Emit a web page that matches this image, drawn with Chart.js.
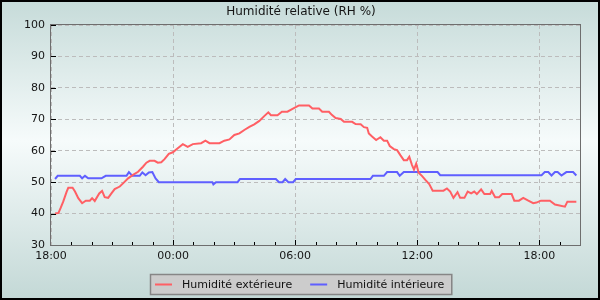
<!DOCTYPE html>
<html>
<head>
<meta charset="utf-8">
<script src="https://cdn.jsdelivr.net/npm/chart.js@4.4.1/dist/chart.umd.min.js"></script>
<style>
  html, body { margin: 0; padding: 0; background: #fff; }
  #wrap { width: 600px; height: 300px; }
</style>
</head>
<body>
<div id="wrap"><canvas id="rh" width="600" height="300"></canvas></div>
<script>
const chartTitle = 'Humidité relative (RH %)';
const seriesNames = ['Humidité extérieure', 'Humidité intérieure'];
const seriesColors = ['#ff5f64', '#5f5fff'];
const startHour = 18;           // x = hours elapsed since 18:00
const hourTicks = [0, 6, 12, 18, 24];

// outside humidity
const outHours = [0.2, 0.37, 0.47, 0.6, 0.77, 0.85, 1.06, 1.18, 1.34, 1.53, 1.71, 1.91, 2.02, 2.15, 2.37, 2.51,
  2.64, 2.81, 2.97, 3.13, 3.38, 3.54, 3.79, 4.03, 4.28, 4.52, 4.69, 4.85, 5.09, 5.25, 5.42, 5.58, 5.79, 5.99,
  6.23, 6.48, 6.72, 6.97, 7.38, 7.59, 7.79, 8.28, 8.52, 8.77, 9.01, 9.26, 9.5, 9.75, 9.99, 10.24, 10.48, 10.68,
  10.81, 11.13, 11.35, 11.62, 11.87, 12.19, 12.68, 12.85, 13.17, 13.33, 13.66, 13.8, 13.99, 14.24, 14.4, 14.8,
  14.97, 15.22, 15.38, 15.54, 15.62, 15.78, 15.98, 16.19, 16.36, 16.52, 16.65, 16.85, 17.01, 17.17, 17.34, 17.5,
  17.61, 17.74, 17.84, 17.95, 18.07, 18.23, 18.4, 18.59, 18.76, 19.29, 19.46, 19.62, 19.78, 19.98, 20.11, 20.32,
  20.48, 20.65, 20.8, 20.93, 21.14, 21.3, 21.58, 21.66, 21.83, 22.02, 22.18, 22.64, 22.77, 23, 23.21, 23.46,
  23.7, 23.86, 24.08, 24.52, 24.77, 25.26, 25.38, 25.82];
const outValues = [40, 40.2, 41.7, 43.8, 47, 48.2, 48.2, 47, 44.9, 43.3, 44.1, 44.1, 44.9, 44, 46.4, 47.2,
  45.2, 45, 46.4, 47.8, 48.6, 49.6, 51.2, 52.3, 53.3, 54.9, 56.2, 56.8, 56.8, 56.2, 56.3, 57.3, 59, 59.5,
  60.8, 62.1, 61.2, 62.1, 62.4, 63.2, 62.4, 62.4, 63.2, 63.6, 65, 65.5, 66.6, 67.6, 68.4, 69.5, 71, 72.2,
  71.3, 71.3, 72.4, 72.4, 73.3, 74.4, 74.4, 73.4, 73.4, 72.4, 72.4, 71.4, 70.4, 70.1, 69.2, 69.2,
  68.5, 68.4, 67.5, 67.3, 65.5, 64.5, 63.4, 64.3, 63.2, 63.2, 61.5, 60.5, 60.2, 58.6, 57, 57,
  58.1, 55.5, 54, 55.9, 53, 52, 50.7, 49.4, 47.3, 47.3, 48, 47, 45, 46.8, 45, 45,
  47, 46.4, 47, 46.2, 47.7, 46.2, 46.2, 47.2, 45.2, 45.2, 46.2, 46.2, 44.1, 44.1, 45, 44.1,
  43.3, 43.5, 44.1, 44.1, 42.9, 42.2, 43.8, 43.8];

// inside humidity
const inHours = [0.2, 0.33, 1.42, 1.53, 1.67, 1.83, 2.48, 2.69, 3.71, 3.83, 4.0, 4.36, 4.49, 4.65, 4.81, 4.98,
  5.14, 5.3, 7.93, 7.98, 8.11, 9.17, 9.29, 11.05, 11.21, 11.38, 11.51, 11.67, 11.9, 12.03, 15.7, 15.82, 16.36,
  16.52, 17.01, 17.14, 17.34, 19.0, 19.13, 24.11, 24.27, 24.44, 24.6, 24.77, 24.9, 25.09, 25.33, 25.66, 25.82];
const inValues = [51, 52, 52, 51.2, 52, 51.2, 51.2, 52, 52, 53.2, 52, 52, 53.1, 52.2, 53.1, 53.2,
  51.2, 50, 50, 49.3, 50, 50, 51, 51, 50, 50, 51, 50, 50, 51, 51, 52, 52,
  53.2, 53.2, 52, 53.2, 53.2, 52.2, 52.2, 53.2, 53.2, 52.1, 53.2, 53.2, 52.1, 53.2, 53.2, 52.1];

const FONT = '"DejaVu Sans", sans-serif';
const pad2 = (n) => String(n).padStart(2, '0');
const hourLabel = (v) => pad2((startHour + v) % 24) + ':00';

const toPoints = (xs, ys) => xs.map((x, i) => ({ x, y: ys[i] }));

// gradient background, title and outer black frame
const backdrop = {
  id: 'backdrop',
  beforeDraw(chart) {
    const { ctx, width, height } = chart;
    const g = ctx.createLinearGradient(0, 0, 0, height);
    g.addColorStop(0, '#c6dbd9');
    g.addColorStop(0.47, '#f6fbfb');
    g.addColorStop(1, '#c3d8d6');
    ctx.save();
    ctx.fillStyle = g;
    ctx.fillRect(0, 0, width, height);
    ctx.restore();
  },
  afterDraw(chart) {
    const { ctx, width, height } = chart;
    ctx.save();
    ctx.fillStyle = '#151515';
    ctx.font = '12px ' + FONT;
    ctx.textAlign = 'center';
    ctx.textBaseline = 'middle';
    ctx.fillText(chartTitle, width / 2 + 1, 12);
    ctx.strokeStyle = '#000';
    ctx.lineWidth = 2;
    ctx.strokeRect(1, 1, width - 2, height - 2);
    ctx.restore();
  }
};

// plot frame and the small inside tick marks
const frameTicks = {
  id: 'frameTicks',
  afterDatasetsDraw(chart) {
    const { ctx, chartArea: a, scales } = chart;
    ctx.save();
    ctx.strokeStyle = '#000';
    ctx.lineWidth = 1;
    ctx.beginPath();
    for (let v = 30; v <= 100; v += 10) {
      const y = Math.round(scales.y.getPixelForValue(v)) + 0.5;
      ctx.moveTo(a.left, y);
      ctx.lineTo(a.left + 5, y);
    }
    for (let h = 1; h < 26; h++) {
      const x = Math.round(scales.x.getPixelForValue(h)) + 0.5;
      const len = h % 6 === 0 ? 5 : 3;
      ctx.moveTo(x, a.bottom);
      ctx.lineTo(x, a.bottom - len);
    }
    ctx.stroke();
    ctx.strokeStyle = '#6e6e6e';
    ctx.strokeRect(Math.round(a.left) - 0.5, Math.round(a.top) - 0.5,
      Math.round(a.right - a.left) + 1, Math.round(a.bottom - a.top) + 1);
    ctx.restore();
  }
};

// boxed legend under the axis
const boxLegend = {
  id: 'boxLegend',
  afterDraw(chart) {
    const { ctx } = chart;
    const sets = chart.data.datasets;
    ctx.save();
    ctx.font = '11px ' + FONT;
    const lineLen = 17, gapText = 10, gapItem = 18, padL = 5, padR = 8;
    const widths = sets.map(d => ctx.measureText(d.label).width);
    let total = padL + padR;
    widths.forEach((w, i) => { total += lineLen + gapText + w + (i ? gapItem : 0); });
    const left = Math.round(301 - total / 2), top = 274, h = 21;
    ctx.fillStyle = '#cccccc';
    ctx.fillRect(left, top, total, h);
    ctx.strokeStyle = '#868686';
    ctx.lineWidth = 1.5;
    ctx.strokeRect(left + 0.5, top + 0.5, total - 1, h - 1);
    let x = left + padL;
    const cy = top + h / 2;
    sets.forEach((d, i) => {
      if (i) x += gapItem;
      ctx.strokeStyle = d.borderColor;
      ctx.lineWidth = 2;
      ctx.beginPath();
      ctx.moveTo(x, cy);
      ctx.lineTo(x + lineLen, cy);
      ctx.stroke();
      x += lineLen + gapText;
      ctx.fillStyle = '#111';
      ctx.textBaseline = 'middle';
      ctx.fillText(d.label, x, cy + 0.5);
      x += widths[i];
    });
    ctx.restore();
  }
};

new Chart(document.getElementById('rh'), {
  type: 'line',
  data: {
    datasets: [
      { label: seriesNames[0], data: toPoints(outHours, outValues), borderColor: seriesColors[0] },
      { label: seriesNames[1], data: toPoints(inHours, inValues), borderColor: seriesColors[1] }
    ]
  },
  options: {
    responsive: false,
    animation: false,
    devicePixelRatio: 1,
    elements: {
      line: { borderWidth: 2, tension: 0, fill: false },
      point: { radius: 0 }
    },
    layout: { padding: { left: 0, right: 20, top: 25, bottom: 0 } },
    plugins: {
      legend: { display: false },
      tooltip: { enabled: false },
      title: { display: false }
    },
    scales: {
      x: {
        type: 'linear',
        min: 0,
        max: 26,
        afterBuildTicks: (s) => { s.ticks = hourTicks.map(v => ({ value: v })); },
        afterFit: (s) => { s.height = 55; },
        grid: { color: '#bcbcbc', drawTicks: false },
        border: { display: false, dash: [4, 3] },
        ticks: {
          autoSkip: false,
          maxRotation: 0,
          minRotation: 0,
          padding: 5,
          color: '#151515',
          font: { family: FONT, size: 11 },
          callback: (v) => hourLabel(v)
        }
      },
      y: {
        min: 30,
        max: 100,
        afterFit: (s) => { s.width = 51; },
        grid: { color: '#bcbcbc', drawTicks: false },
        border: { display: false, dash: [4, 3] },
        ticks: {
          stepSize: 10,
          padding: 6,
          color: '#151515',
          font: { family: FONT, size: 11 }
        }
      }
    }
  },
  plugins: [backdrop, frameTicks, boxLegend]
});
</script>
</body>
</html>
